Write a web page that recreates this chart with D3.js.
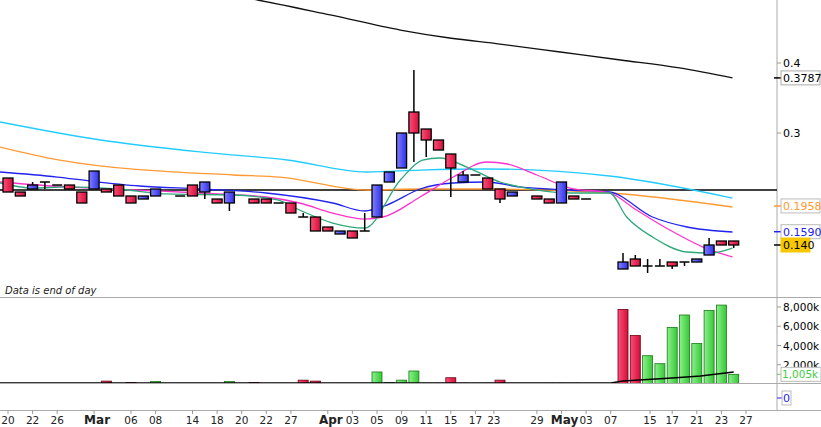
<!DOCTYPE html>
<html><head><meta charset="utf-8">
<script src="https://cdn.jsdelivr.net/npm/d3@7"></script>
<style>body{margin:0;background:#fff;}svg{font-family:Tahoma,"DejaVu Sans",sans-serif;}</style>
</head><body><svg id="c" width="821" height="427"></svg>
<script>
// candles: [slot, open, high, low, close]
const candles = [
[0,.2357,.2357,.2157,.2157],[1,.2157,.2157,.21,.21],[2,.22,.23,.22,.2257],[3,.23,.23,.22,.23],
[4,.2257,.2257,.2257,.2257],[5,.2257,.2257,.22,.22],[6,.2157,.2157,.2,.2],[7,.22,.2457,.22,.2457],
[8,.22,.22,.2157,.2157],[9,.2257,.2257,.21,.21],[10,.21,.21,.2,.2],[11,.2057,.21,.2057,.21],
[12,.21,.22,.21,.22],[14,.21,.21,.21,.21],[15,.2257,.2257,.21,.21],[16,.2157,.23,.2057,.23],
[17,.2057,.2057,.2,.2],[18,.2,.2157,.1886,.2157],[20,.2057,.2057,.2,.2],[21,.2057,.2057,.2,.2],
[22,.2,.2,.2,.2],[23,.2,.2,.1857,.1857],[24,.18,.1857,.18,.18],[25,.18,.18,.16,.16],
[26,.1657,.1657,.16,.16],[27,.1557,.16,.1557,.16],[28,.16,.16,.15,.15],[29,.16,.1857,.16,.16],
[30,.18,.2257,.18,.2257],[31,.23,.2443,.23,.2443],[32,.25,.3,.25,.3],[33,.33,.39,.2586,.3],
[34,.3057,.3057,.2657,.29],[35,.29,.29,.2757,.2757],[36,.27,.27,.2086,.25],[37,.23,.2457,.23,.24],
[38,.24,.24,.24,.24],[39,.2357,.2357,.22,.22],[40,.22,.22,.2,.2057],[41,.21,.2157,.21,.2157],
[43,.21,.21,.2057,.2057],[44,.2057,.2057,.2,.2],[45,.2,.23,.2,.23],[46,.21,.21,.2057,.2057],
[47,.2057,.2057,.2057,.2057],[50,.1057,.1286,.1057,.1157],[51,.12,.1257,.11,.11],[52,.11,.12,.1,.11],
[53,.11,.12,.11,.11],[54,.1157,.1157,.1057,.11],[55,.1157,.1157,.11,.1157],[56,.1157,.12,.1157,.12],
[57,.1257,.15,.1257,.14],[58,.1457,.1457,.14,.14],[59,.1457,.1457,.1357,.14]];
// volume in thousands: [slot, volume, direction]
const volumes = [
[8,300,"d"],[10,150,"d"],[12,250,"u"],[18,250,"u"],[20,150,"d"],[24,400,"d"],[25,300,"d"],
[30,1250,"u"],[31,150,"u"],[32,400,"u"],[33,1350,"u"],[34,80,"d"],[35,80,"d"],[36,650,"d"],[37,80,"d"],
[39,80,"d"],[40,400,"d"],[42,60,"u"],[43,60,"d"],[44,80,"d"],[45,80,"u"],[46,80,"d"],
[50,7750,"d"],[51,5030,"d"],[52,2940,"u"],[53,2110,"u"],[54,5870,"u"],[55,7170,"u"],[56,4200,"u"],
[57,7650,"u"],[58,8200,"u"],[59,1005,"u"]];
const volMA = [[-1,100],[49,100],[50,310],[54,620],[56.3,830],[59,1250]];
const maBlack = [[15.6,.5043],[20.3,.49],[26.2,.4686],[31.9,.4471],[35.9,.4357],[40,.4271],[44.9,.4157],[49.8,.4043],[54.6,.3929],[58.9,.3786]];
const maCyan = [[-0.65,.3157],[7.5,.29],[15.6,.2729],[22.7,.2614],[29.2,.2443],[33.5,.2471],[38.9,.2486],[48.9,.2386],[58.9,.2071]];
const maOrange = [[-0.65,.28],[4.2,.2614],[18.3,.24],[22.1,.2371],[29.2,.2186],[33.5,.22],[38.9,.22],[48.9,.2143],[58.9,.1943]];
const maBlue = [[-0.65,.2443],[4,.2371],[6.7,.2314],[10.7,.2243],[15.6,.22],[21,.2143],[26.4,.2],[29,.1886],[30.8,.1971],[33.5,.22],[36.2,.2286],[38.9,.23],[41.6,.2229],[45.7,.2186],[48.9,.2157],[52.4,.18],[55.2,.1657],[58.9,.1586]];
const maPink = [[-0.65,.23],[4.8,.2229],[10.2,.2186],[15.6,.2143],[21,.2086],[23.7,.2],[26.4,.1857],[29,.1771],[30.5,.18],[33.5,.2086],[36.2,.2371],[38.9,.2586],[40.6,.2557],[43,.24],[45.7,.2214],[48.9,.2143],[51.1,.19],[53.8,.1614],[56.5,.1371],[58.9,.1229]];
const maGreen = [[-0.65,.2286],[2,.2214],[4.8,.2229],[8.9,.22],[12.9,.2129],[18.3,.2114],[21.9,.2043],[23.7,.19],[26.4,.1714],[29,.1643],[31.9,.2329],[33.7,.2614],[35.1,.2643],[37.3,.2514],[40,.23],[41.6,.2229],[45.7,.2143],[48.9,.2143],[50.3,.18],[52.4,.1514],[55.2,.13],[57.1,.1286],[58.9,.1357]];
const hLine = 0.2186;
const xLabels = [[0,"20"],[2,"22"],[4,"26"],[7,"Mar"],[10,"06"],[12,"08"],[15,"14"],[17,"18"],[19,"20"],[21,"22"],[23,"27"],[26,"Apr"],[28,"03"],[30,"05"],[32,"09"],[34,"11"],[36,"15"],[38,"17"],[39.5,"23"],[43,"29"],[45,"May"],[47,"03"],[49,"07"],[52.2,"15"],[54,"17"],[56,"21"],[58,"23"],[60,"27"]];
const priceTicks = [0.3,0.4];
const volTicks = [2000,4000,6000,8000];
const priceTags = [[0.3787,"0.3787","#000","#fff","#aaa"],[0.1958,"0.1958","#ff9933","#fff","#bbb"],[0.1590,"0.1590","#2222ee","#fff","#bbb"],[0.140,"0.140","#000","#f7c800","#f7c800"]];

const svg = d3.select("#c");
const W=777;
const x = d3.scaleLinear().domain([0,59]).range([8,8+59*12.3]);
const y = d3.scaleLinear().domain([0.3,0.4]).range([133,63]);
const yv = d3.scaleLinear().domain([0,8000]).range([384,307]);
const defs = svg.append("defs");
function grad(id,a,b){const g=defs.append("linearGradient").attr("id",id);g.append("stop").attr("offset","0%").attr("stop-color",a);g.append("stop").attr("offset","100%").attr("stop-color",b);}
grad("gr","#ff4d78","#d0103a");grad("gb","#8080ff","#3030e8");grad("gg","#8cf08c","#36c836");
defs.append("clipPath").attr("id","cp").append("rect").attr("x",0).attr("y",0).attr("width",W).attr("height",297);
defs.append("clipPath").attr("id","cv").append("rect").attr("x",0).attr("y",298).attr("width",W).attr("height",85);

// frame
svg.append("line").attr("x1",W).attr("x2",W).attr("y1",0).attr("y2",410).attr("stroke","#aaa");
[297,383,410].forEach(v=>svg.append("line").attr("x1",0).attr("x2",W+44).attr("y1",v+.5).attr("y2",v+.5).attr("stroke","#aaa"));

const P = svg.append("g").attr("clip-path","url(#cp)");
P.append("line").attr("x1",0).attr("x2",W).attr("y1",y(hLine)).attr("y2",y(hLine)).attr("stroke","#000").attr("stroke-width",1.5);
const line = d3.line().x(d=>x(d[0])).y(d=>y(d[1])).curve(d3.curveMonotoneX);
[[maBlack,"#111"],[maCyan,"#22ccff"],[maOrange,"#ff9933"],[maBlue,"#2222ee"],[maPink,"#ff33cc"],[maGreen,"#2ea87a"]].forEach(([d,c])=>
  P.append("path").attr("d",line(d)).attr("fill","none").attr("stroke",c).attr("stroke-width",1.3));
const cg = P.selectAll("g.c").data(candles).join("g");
cg.append("line").attr("x1",d=>x(d[0])).attr("x2",d=>x(d[0])).attr("y1",d=>y(d[2])).attr("y2",d=>y(d[3])).attr("stroke","#000").attr("stroke-width",1.5);
cg.each(function(d){
  const g=d3.select(this), t=y(Math.max(d[1],d[4])), b=y(Math.min(d[1],d[4]));
  if(d[1]===d[4]) g.append("line").attr("x1",x(d[0])-5).attr("x2",x(d[0])+5).attr("y1",t).attr("y2",t).attr("stroke","#000").attr("stroke-width",1.5);
  else g.append("rect").attr("x",x(d[0])-5).attr("y",t).attr("width",10).attr("height",Math.max(1,b-t))
    .attr("fill",d[4]>d[1]?"url(#gb)":"url(#gr)").attr("stroke","#000").attr("stroke-width",1.3);
});
svg.append("text").attr("x",5).attr("y",294).attr("font-size",10).attr("font-style","italic").attr("fill","#222").text("Data is end of day");

// price axis
priceTicks.forEach(t=>{svg.append("line").attr("x1",W).attr("x2",W+4).attr("y1",y(t)).attr("y2",y(t)).attr("stroke","#999");
 svg.append("text").attr("x",W+6).attr("y",y(t)+4).attr("font-size",11).text(t);});
priceTags.forEach(([v,l,c,bg,bd])=>{const yy=y(v);
 svg.append("line").attr("x1",W-3).attr("x2",W+4).attr("y1",yy).attr("y2",yy).attr("stroke",c==="#000"?"#000":c).attr("stroke-width",1.5);
 svg.append("rect").attr("x",W+4).attr("y",yy-7).attr("width",l.length>5?39:29).attr("height",14).attr("fill",bg).attr("stroke",bd);
 svg.append("text").attr("x",W+6).attr("y",yy+4).attr("font-size",11).attr("fill",c).text(l);});

// volume
const V = svg.append("g").attr("clip-path","url(#cv)");
V.selectAll("rect").data(volumes).join("rect").attr("x",d=>x(d[0])-5).attr("width",10).attr("y",d=>yv(d[1])).attr("height",d=>yv(0)-yv(d[1]))
 .attr("fill",d=>d[2]==="u"?"url(#gg)":"url(#gr)").attr("stroke",d=>d[2]==="u"?"#1a7a1a":"#6a0010").attr("stroke-width",0.8);
V.append("path").attr("d",d3.line().x(d=>x(d[0])).y(d=>yv(d[1]))(volMA)).attr("fill","none").attr("stroke","#000").attr("stroke-width",1.5);
volTicks.forEach(t=>{svg.append("line").attr("x1",W).attr("x2",W+4).attr("y1",yv(t)).attr("y2",yv(t)).attr("stroke","#999");
 svg.append("text").attr("x",W+6).attr("y",yv(t)+4).attr("font-size",10.5).text(d3.format(",")(t/1)+"k".replace("k","")+"k").text(d3.format(",")(t)+"k");});
{const yy=yv(1005);svg.append("line").attr("x1",W).attr("x2",W+5).attr("y1",yy).attr("y2",yy).attr("stroke","#5c5");
 svg.append("rect").attr("x",W+4).attr("y",yy-7).attr("width",40).attr("height",14).attr("fill","#fff").attr("stroke","#bbb");
 svg.append("text").attr("x",W+5).attr("y",yy+4).attr("font-size",10.5).attr("fill","#44cc44").text("1,005k");}
svg.append("line").attr("x1",W).attr("x2",W+5).attr("y1",398).attr("y2",398).attr("stroke","#22e");
svg.append("rect").attr("x",W+5).attr("y",391).attr("width",9).attr("height",14).attr("fill","#fff").attr("stroke","#bbb");
svg.append("text").attr("x",W+6).attr("y",402).attr("font-size",11).attr("fill","#22e").text("0");

// date axis
xLabels.forEach(([i,l])=>{const bold=isNaN(+l);
 svg.append("line").attr("x1",x(i)).attr("x2",x(i)).attr("y1",410).attr("y2",414).attr("stroke","#999");
 svg.append("text").attr("x",x(i)+(bold?3:0)).attr("y",424).attr("text-anchor","middle").attr("font-size",bold?12:10.5)
  .attr("font-weight",bold?"bold":"normal").attr("fill","#222").text(l);});
</script></body></html>
